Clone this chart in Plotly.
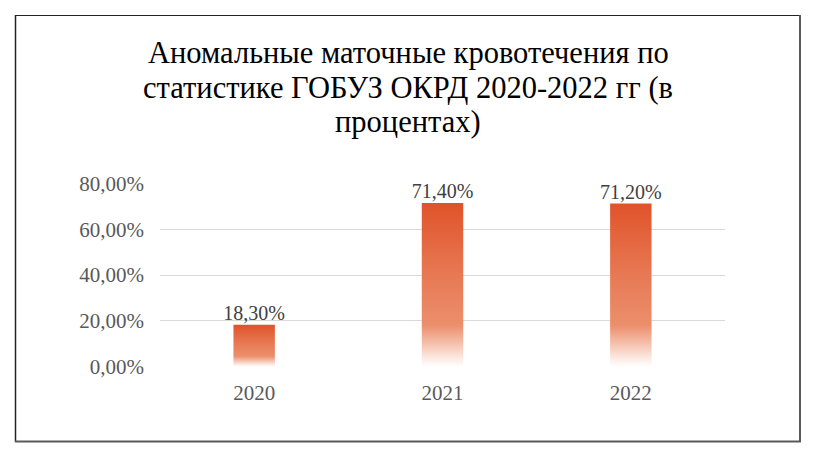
import plotly.graph_objects as go

categories = ["2020", "2021", "2022"]
values = [18.3, 71.4, 71.2]
labels = ["18,30%", "71,40%", "71,20%"]
ytick_vals = [0, 20, 40, 60, 80]
ytick_text = ["0,00%", "20,00%", "40,00%", "60,00%", "80,00%"]
title_lines = ["Аномальные маточные кровотечения по",
               "статистике ГОБУЗ ОКРД 2020-2022 гг (в",
               "процентах)"]

FONT = "Liberation Serif"
half = 0.11
scale = [[0.0, "#FFFFFF"], [0.06, "#FBE6DD"], [0.25, "#EC8F6C"], [0.55, "#E77A55"], [1.0, "#E0532A"]]

fig = go.Figure()
for i, (c, v) in enumerate(zip(categories, values)):
    xs = [i - half, i + half, i + half, i - half, i - half]
    ys = [0, 0, v, v, 0]
    fig.add_trace(go.Scatter(
        x=xs, y=ys, mode="lines", fill="toself",
        line=dict(width=0, color="rgba(0,0,0,0)"),
        fillgradient=dict(type="vertical", colorscale=scale, start=0, stop=v),
        hoverinfo="skip", showlegend=False,
    ))

fig.add_trace(go.Scatter(
    x=list(range(len(categories))), y=values, mode="text",
    text=labels, textposition="top center",
    textfont=dict(family=FONT, size=20, color="#404040"),
    showlegend=False, hoverinfo="skip", cliponaxis=False,
))

W, H = 816, 459
ml, mr, mt, mb = 160, 91, 183, 92
pw, ph = W - ml - mr, H - mt - mb

def px_x(x):
    return (x - ml) / pw

def px_y(y):
    return (H - mb - y) / ph

annotations = []
for k, (line, yc) in enumerate(zip(title_lines, [53, 87.5, 122])):
    annotations.append(dict(text=line, xref="paper", yref="paper", x=px_x(408), y=px_y(yc),
                            xanchor="center", yanchor="middle", showarrow=False,
                            font=dict(family=FONT, size=30.5, color="#000000")))

fig.update_layout(
    width=W, height=H,
    margin=dict(l=ml, r=mr, t=mt, b=mb),
    paper_bgcolor="white", plot_bgcolor="white",
    annotations=annotations,
    xaxis=dict(range=[-0.5, 2.5], tickvals=list(range(len(categories))), ticktext=categories,
               showgrid=False, zeroline=False, showline=False, ticks="", ticklabelstandoff=11,
               tickfont=dict(family=FONT, size=21, color="#595959"), fixedrange=True),
    yaxis=dict(range=[-0.15, 80.15], tickvals=ytick_vals, ticktext=ytick_text,
               showgrid=True, gridcolor="#D9D9D9", gridwidth=1, zeroline=False,
               showline=False, ticks="", ticklabelstandoff=15,
               tickfont=dict(family=FONT, size=21, color="#595959"), fixedrange=True),
    shapes=[
        dict(type="line", xref="paper", yref="paper", x0=px_x(15), x1=px_x(801), y0=px_y(15.5), y1=px_y(15.5),
             line=dict(color="#222222", width=1.2)),
        dict(type="line", xref="paper", yref="paper", x0=px_x(15.5), x1=px_x(15.5), y0=px_y(15), y1=px_y(442),
             line=dict(color="#222222", width=1.5)),
        dict(type="line", xref="paper", yref="paper", x0=px_x(800), x1=px_x(800), y0=px_y(15), y1=px_y(442),
             line=dict(color="#5A5A5A", width=2)),
        dict(type="line", xref="paper", yref="paper", x0=px_x(15), x1=px_x(801), y0=px_y(441.5), y1=px_y(441.5),
             line=dict(color="#5A5A5A", width=2)),
    ],
)

fig.write_html("out.html")
